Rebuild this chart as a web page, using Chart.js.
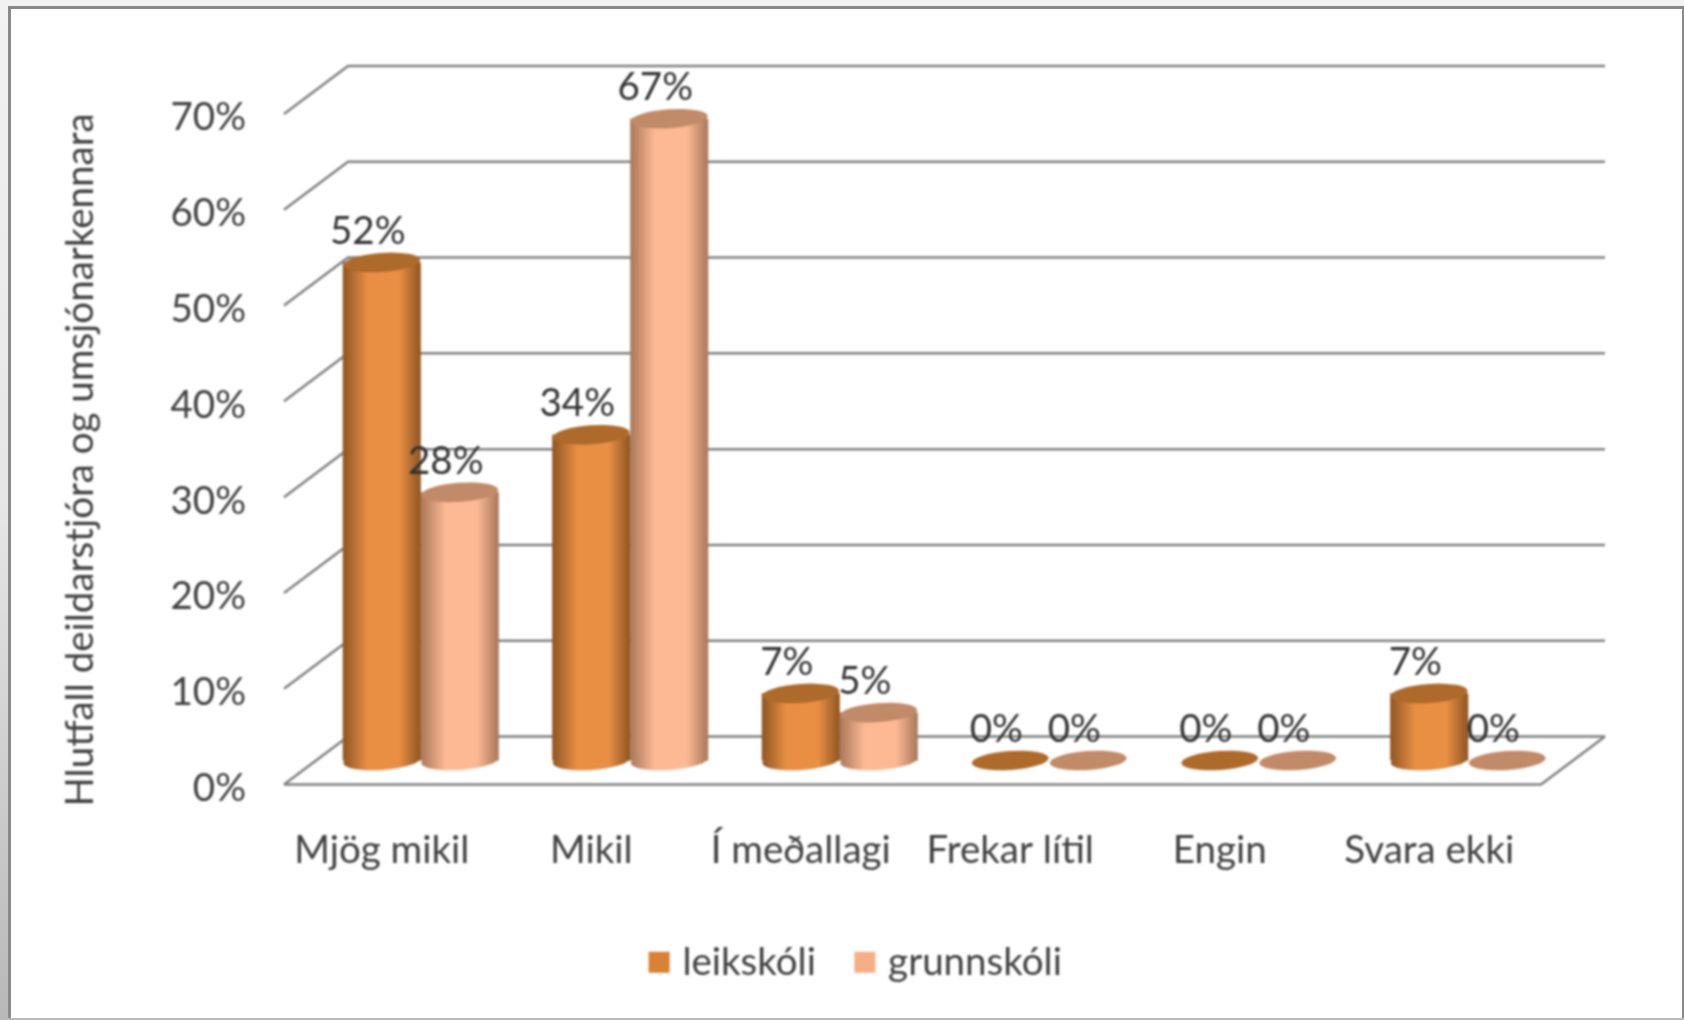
<!DOCTYPE html>
<html>
<head>
<meta charset="utf-8">
<title>Hlutfall deildarstjóra og umsjónarkennara</title>
<script src="https://cdn.jsdelivr.net/npm/chart.js@4"></script>
<style>
    html, body { margin: 0; padding: 0; height: 100%; background: linear-gradient(#f2f2f2, #e6e6e6 50%, #b8b8b8); overflow: hidden; }
    #frame { position: absolute; left: 8px; top: 6px; width: 1676px; height: 1012px; box-sizing: border-box; background: #fff; border: solid #8a8a8a; border-width: 3px 2px 0 3px; filter: blur(0.6px); }
    #chart { position: absolute; left: 0; top: 0; filter: blur(0.9px); }
</style>
</head>
<body>
<div id="frame"></div>
<canvas id="chart" width="1684" height="1020"></canvas>
<script>
const categories = ['Mjög mikil', 'Mikil', 'Í meðallagi', 'Frekar lítil', 'Engin', 'Svara ekki'];
const leikskoli = [52, 34, 7, 0, 0, 7];
const grunnskoli = [28, 67, 5, 0, 0, 0];
const seriesNames = ['leikskóli', 'grunnskóli'];
const yTicks = [0, 10, 20, 30, 40, 50, 60, 70];
const yTitle = 'Hlutfall deildarstjóra og umsjónarkennara';

const FONT = 'Lato, "Open Sans", sans-serif';
const FONT_SIZE = 38.5;
const DEPTH_X = 64, DEPTH_Y = 48;   // back wall offset from the front plane
const BAR_WIDTH = 78;

// edge, middle and top colours of each cylinder
const shades = [
    { edge: '#8f5522', light: '#e88f44', top: '#ad6a2b', key: '#d98135' },
    { edge: '#a9785a', light: '#fdb994', top: '#c18a68', key: '#f6ae87' }
];

function cylinderFill(ctx) {
    if (!ctx.chart.chartArea || ctx.type !== 'data') return shades[ctx.datasetIndex].key;
    const chart = ctx.chart;
    const s = shades[ctx.datasetIndex];
    const cx = chart.scales.x.getPixelForValue(ctx.dataIndex) + (ctx.datasetIndex === 0 ? -BAR_WIDTH / 2 : BAR_WIDTH / 2);
    const g = chart.ctx.createLinearGradient(cx - BAR_WIDTH / 2, 0, cx + BAR_WIDTH / 2, 0);
    g.addColorStop(0, s.edge);
    g.addColorStop(0.32, s.light);
    g.addColorStop(0.72, s.light);
    g.addColorStop(1, s.edge);
    return g;
}

const wallPlugin = {
    id: 'wall',
    afterLayout(chart) {
        // legend sits right of the canvas centre in the original
        chart.legend.left += 59;
        chart.legend.right += 59;
        chart.legend.top += 6;
    },
    beforeDraw(chart) {
        // percent labels sit a little lower than the tick itself
        chart.scales.y.getLabelItems().forEach(item => {
            if (!item.shifted) {
                item.options.translation[1] += 4;
                item.shifted = true;
            }
        });
    },
    beforeDatasetsDraw(chart) {
        const { ctx, chartArea, scales } = chart;
        ctx.save();
        ctx.strokeStyle = '#808080';
        ctx.lineWidth = 2.5;
        yTicks.forEach(t => {
            const y = scales.y.getPixelForValue(t);
            ctx.beginPath();
            ctx.moveTo(chartArea.left, y);
            ctx.lineTo(chartArea.left + DEPTH_X, y - DEPTH_Y);
            ctx.lineTo(chartArea.right + DEPTH_X, y - DEPTH_Y);
            ctx.stroke();
        });
        const y0 = scales.y.getPixelForValue(0);
        ctx.beginPath();
        ctx.moveTo(chartArea.left, y0);
        ctx.lineTo(chartArea.right, y0);
        ctx.lineTo(chartArea.right + DEPTH_X, y0 - DEPTH_Y);
        ctx.stroke();
        ctx.restore();

        ctx.save();
        ctx.translate(81, 460);
        ctx.rotate(-Math.PI / 2);
        ctx.fillStyle = '#404040';
        ctx.font = FONT_SIZE + 'px ' + FONT;
        ctx.textAlign = 'center';
        ctx.textBaseline = 'middle';
        ctx.fillText(yTitle, 0, 0);
        ctx.restore();

        // bars stand in the middle of the floor
        ctx.save();
        ctx.translate(DEPTH_X / 2, -DEPTH_Y / 2);
    },
    afterDatasetsDraw(chart) {
        const { ctx } = chart;
        const rx = BAR_WIDTH / 2 - 0.5, ry = 9.5, tilt = -0.07;
        [0, 1].forEach(d => {
            const values = chart.data.datasets[d].data;
            chart.getDatasetMeta(d).data.forEach((bar, i) => {
                if (values[i] > 0) {
                    ctx.beginPath();
                    ctx.ellipse(bar.x, bar.base, rx, ry, tilt, 0, Math.PI * 2);
                    ctx.fillStyle = bar.options.backgroundColor;
                    ctx.fill();
                    // second series overlaps the first
                    ctx.fillRect(bar.x - rx, bar.y, rx * 2, bar.base - bar.y);
                }
                ctx.beginPath();
                ctx.ellipse(bar.x, bar.y, rx, ry, tilt, 0, Math.PI * 2);
                ctx.fillStyle = shades[d].top;
                ctx.fill();
            });
        });
        ctx.fillStyle = '#333333';
        ctx.font = FONT_SIZE + 'px ' + FONT;
        ctx.textAlign = 'center';
        ctx.textBaseline = 'middle';
        [0, 1].forEach(d => {
            const values = chart.data.datasets[d].data;
            chart.getDatasetMeta(d).data.forEach((bar, i) => {
                ctx.fillText(values[i] + '%', bar.x - 14, bar.y - 31);
            });
        });
        ctx.restore();
    }
};

new Chart(document.getElementById('chart'), {
    type: 'bar',
    plugins: [wallPlugin],
    data: {
        labels: categories,
        datasets: [
            { label: seriesNames[0], data: leikskoli, backgroundColor: cylinderFill, clip: false },
            { label: seriesNames[1], data: grunnskoli, backgroundColor: cylinderFill, clip: false }
        ]
    },
    options: {
        responsive: false,
        animation: false,
        devicePixelRatio: 1,
        layout: { padding: { left: 58, right: 143, top: 114, bottom: 34.5 } },
        datasets: { bar: { categoryPercentage: 2 * BAR_WIDTH / 209.5, barPercentage: 1 } },
        plugins: {
            tooltip: { enabled: false },
            legend: {
                position: 'bottom',
                labels: {
                    font: { family: FONT, size: FONT_SIZE },
                    color: '#404040',
                    usePointStyle: true,
                    boxWidth: 8,
                    boxHeight: 21,
                    padding: 45,
                    generateLabels() {
                        return seriesNames.map((name, i) => ({
                            text: name, datasetIndex: i, pointStyle: 'rect', fillStyle: shades[i].key, strokeStyle: shades[i].key, lineWidth: 0, fontColor: '#404040'
                        }));
                    }
                }
            }
        },
        scales: {
            x: {
                grid: { display: false, drawTicks: false },
                border: { display: false },
                afterFit(scale) { scale.height = 107.5; },
                ticks: {
                    font: { family: FONT, size: FONT_SIZE },
                    color: '#404040',
                    padding: 43,
                    maxRotation: 0,
                    autoSkip: false,
                    labelOffset: -7
                }
            },
            y: {
                min: 0,
                max: 70,
                grid: { display: false, drawTicks: false },
                border: { display: false },
                afterFit(scale) { scale.width = 226; },
                afterBuildTicks(scale) { scale.ticks = yTicks.map(v => ({ value: v })); },
                ticks: {
                    font: { family: FONT, size: FONT_SIZE },
                    color: '#404040',
                    padding: 38,
                    callback: v => v + '%'
                }
            }
        }
    }
});
</script>
</body>
</html>
